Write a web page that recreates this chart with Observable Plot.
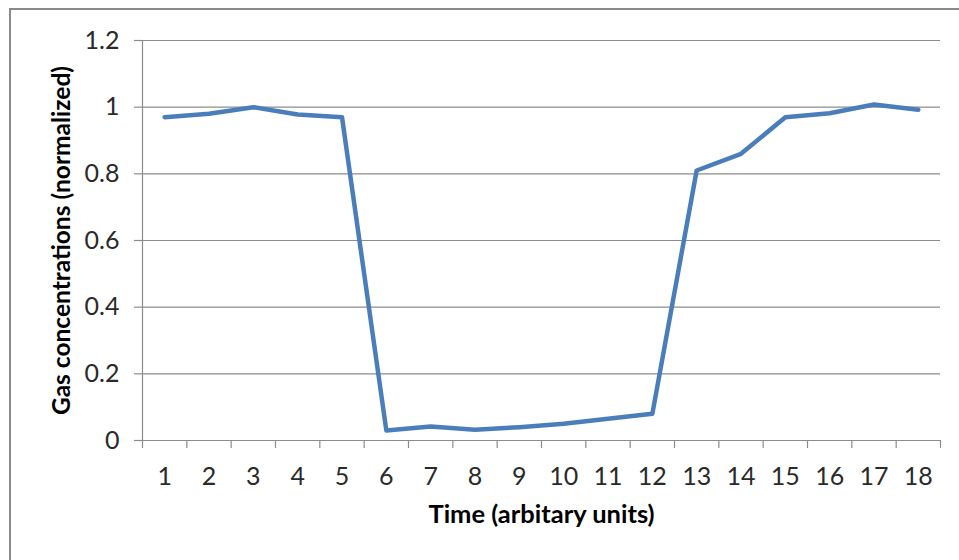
<!DOCTYPE html>
<html>
<head>
<meta charset="utf-8">
<script src="https://cdn.jsdelivr.net/npm/d3@7"></script>
<script src="https://cdn.jsdelivr.net/npm/@observablehq/plot@0.6"></script>
<style>
  html, body { margin: 0; padding: 0; background: #fff; }
  #wrap { position: relative; width: 959px; height: 560px; overflow: hidden; }
  #frame { position: absolute; left: 9px; top: 8px; width: 980px; height: 600px;
           border: 2px solid #8a8a8a; box-sizing: border-box; pointer-events: none; }
</style>
</head>
<body>
<div id="wrap"><div id="frame"></div></div>
<script>
const categories = [1,2,3,4,5,6,7,8,9,10,11,12,13,14,15,16,17,18];
const values = [0.97,0.98,1.0,0.978,0.97,0.03,0.042,0.032,0.04,0.05,0.065,0.08,0.81,0.86,0.97,0.982,1.008,0.992];
const yTicks = [0,0.2,0.4,0.6,0.8,1,1.2];
const xTitle = "Time (arbitary units)";
const yTitle = "Gas concentrations (normalized)";

const data = categories.map((c, i) => ({c, v: values[i]}));
const boundaries = d3.range(0.5, categories.length + 1, 1);

const grid = "#8c8c8c";
const font = "Lato, 'Open Sans', sans-serif";

const chart = Plot.plot({
  width: 959,
  height: 560,
  marginLeft: 142,
  marginRight: 19,
  marginTop: 40,
  marginBottom: 120,
  style: {fontFamily: font, fontSize: "25px", color: "#2a2a2a", background: "transparent", overflow: "visible"},
  x: {type: "linear", domain: [0.5, categories.length + 0.5]},
  y: {domain: [0, 1.2]},
  marks: [
    Plot.gridY(yTicks, {stroke: grid, strokeOpacity: 1, strokeWidth: 1.2, x1: 0.5, x2: categories.length + 0.5}),
    Plot.axisY(yTicks, {tickSize: 8, tickPadding: 15, stroke: grid, strokeWidth: 1.2,
      tickFormat: d => String(+d.toFixed(1)), label: null, fill: "#2a2a2a", fontSize: 25}),
    Plot.axisX(boundaries, {tickSize: 8, tickFormat: () => "", stroke: grid, strokeWidth: 1.2, label: null}),
    Plot.axisX(categories, {tickSize: 0, tickPadding: 27, tickFormat: d => String(d), label: null, fill: "#2a2a2a", fontSize: 25}),
    Plot.ruleX([0.5], {stroke: grid, strokeWidth: 1.2}),
    Plot.ruleY([0], {stroke: grid, strokeWidth: 1.2}),
    Plot.line(data, {x: "c", y: "v", stroke: "#4a7ebb", strokeWidth: 4.5, strokeLinejoin: "round", strokeLinecap: "round"}),
    Plot.text([xTitle], {frameAnchor: "bottom", dy: 82, text: d => d, fontWeight: "bold", fontSize: 25.5, fill: "#000", textAnchor: "middle"}),
    Plot.text([yTitle], {frameAnchor: "left", dx: -80, rotate: -90, text: d => d, fontWeight: "bold", fontSize: 24.5, fill: "#000", textAnchor: "middle"})
  ]
});
document.getElementById("wrap").prepend(chart);
</script>
</body>
</html>
